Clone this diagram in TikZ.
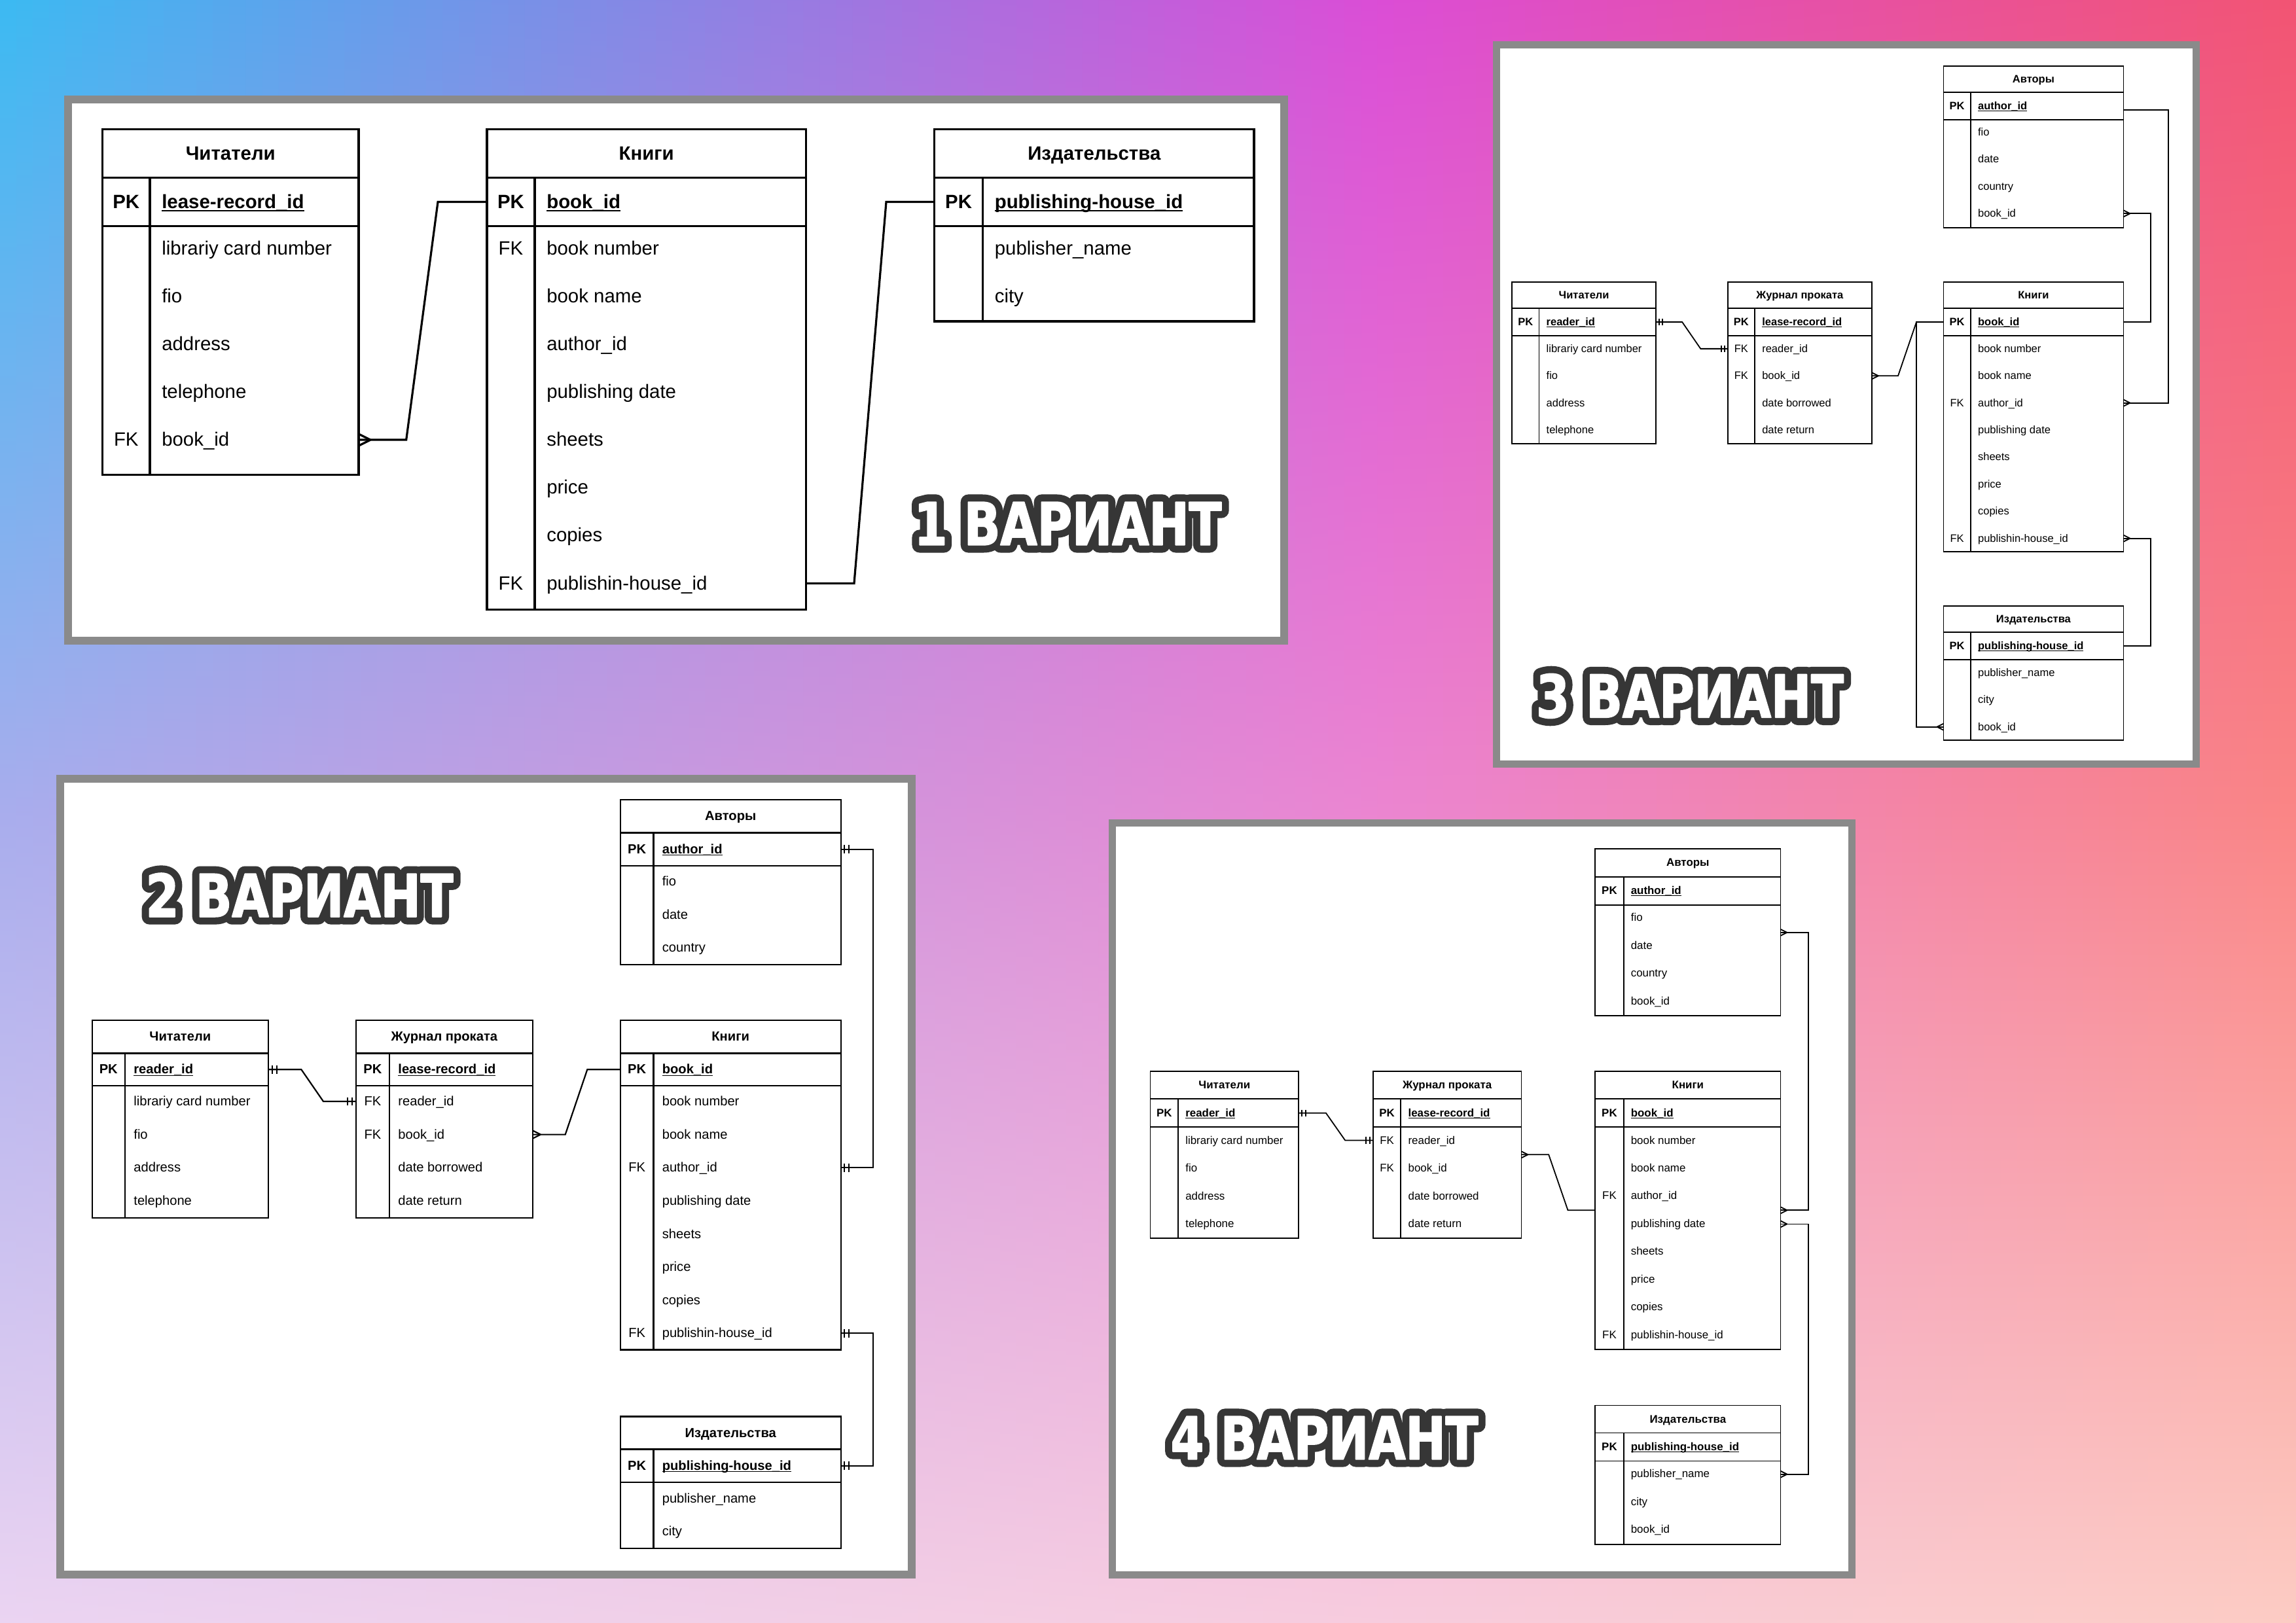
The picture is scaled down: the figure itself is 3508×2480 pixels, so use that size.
\documentclass[tikz,border=0pt]{standalone}
\usepackage{fontspec}
\usepackage{graphicx}
\setmainfont{Liberation Sans}
\newfontfamily\titlefont{DejaVu Sans}[FakeStretch=0.81]
\usetikzlibrary{calc}

\definecolor{t0}{RGB}{59,186,242}
\definecolor{t1}{RGB}{219,77,214}
\definecolor{t2}{RGB}{242,84,115}
\definecolor{m0}{RGB}{168,173,237}
\definecolor{m1}{RGB}{235,133,209}
\definecolor{m2}{RGB}{250,133,133}
\definecolor{b0}{RGB}{235,212,242}
\definecolor{b1}{RGB}{247,204,222}
\definecolor{b2}{RGB}{252,204,196}
\definecolor{framegray}{RGB}{138,138,138}
\definecolor{titledark}{RGB}{54,54,54}

\newcommand\fA{\fontsize{7.35bp}{8.8bp}\selectfont}
\newcommand\fB{\fontsize{5.04bp}{6bp}\selectfont}
\newcommand\fC{\fontsize{4.125bp}{5bp}\selectfont}
\newcommand\fD{\fontsize{4.225bp}{5bp}\selectfont}
\newcommand\keyul[1]{\setbox0=\hbox{#1}\rlap{\rule[-0.15em]{\wd0}{0.07em}}\box0}

\newcommand\ertable[8]{\draw[#1] (#2,#5) rectangle (#3,#8) (#2,#6) -- (#3,#6) (#2,#7) -- (#3,#7) (#4,#6) -- (#4,#8);}
\newcommand\crowfoot[4]{\draw[#4] (#1) ++({(#2)*(#3)},0) -- ++({-(#2)*(#3)},{0.5*(#3)}) (#1) ++({(#2)*(#3)},0) -- ++({-(#2)*(#3)},{-0.5*(#3)});}
\newcommand\mandone[4]{\draw[#4] (#1) ++({0.45*(#2)*(#3)},{0.5*(#3)}) -- ++(0,{-(#3)}) (#1) ++({(#2)*(#3)},{0.5*(#3)}) -- ++(0,{-(#3)});}
\newcommand\vtext[1]{{\titlefont\bfseries\fontsize{22.5bp}{22.5bp}\selectfont
  \rlap{\color{titledark}\addfontfeature{FakeBold=26}#1}\color{white}\addfontfeature{FakeBold=2}#1}}
\newcommand\variant[3]{\node[vt] (#1) at (#2) {\vtext{#3}};}

\begin{document}
\begin{tikzpicture}[x=0.25bp,y=-0.25bp,
  panel/.style={fill=white, draw=framegray, line width=3bp},
  vt/.style={inner sep=0pt, anchor=center, line join=round, line cap=round},
  txt/.style={inner sep=0pt, text depth=0pt, anchor=west, text=black},
  tA/.style={txt, font=\fA, text height=4.85bp},
  tB/.style={txt, font=\fB, text height=3.33bp},
  tC/.style={txt, font=\fC, text height=2.72bp},
  tD/.style={txt, font=\fD, text height=2.79bp},
  pA/.style={tA, font=\fA\bfseries}, pB/.style={tB, font=\fB\bfseries},
  pC/.style={tC, font=\fC\bfseries}, pD/.style={tD, font=\fD\bfseries},
  kA/.style={tA, anchor=center}, kB/.style={tB, anchor=center},
  kC/.style={tC, anchor=center}, kD/.style={tD, anchor=center},
  hA/.style={pA, anchor=center}, hB/.style={pB, anchor=center},
  hC/.style={pC, anchor=center}, hD/.style={pD, anchor=center},
  kbA/.style={hA}, kbB/.style={hB}, kbC/.style={hC}, kbD/.style={hD},
  lnA/.style={draw=black, line width=0.8bp, line join=miter},
  lnB/.style={draw=black, line width=0.55bp},
  lnC/.style={draw=black, line width=0.45bp},
  lnD/.style={draw=black, line width=0.45bp}]
\useasboundingbox (0,0) rectangle (3508,2480);

% ---------- background ----------
\foreach \i in {0,...,139}{
  \pgfmathsetmacro\u{(\i+0.5)/140}
  \pgfmathsetmacro\xa{\i*25.0571}
  \pgfmathsetmacro\xb{(\i+1)*25.0571+2}
  \ifdim\u pt<0.6pt
    \pgfmathsetmacro\p{\u/0.6*100}
    \colorlet{ct}{t1!\p!t0}\colorlet{cm}{m1!\p!m0}\colorlet{cb}{b1!\p!b0}
  \else
    \pgfmathsetmacro\p{(\u-0.6)/0.4*100}
    \colorlet{ct}{t2!\p!t1}\colorlet{cm}{m2!\p!m1}\colorlet{cb}{b2!\p!b1}
  \fi
  \shade[top color=ct, bottom color=cb, middle color=cm] (\xa,-2) rectangle (\xb,2482);
}

% ---------- panels ----------
\draw[panel] (104,152) rectangle (1962,979);
\draw[panel] (92,1190) rectangle (1393,2406);
\draw[panel, line width=2.75bp] (2286,69) rectangle (3355,1168);
\draw[panel, line width=2.75bp] (1699,1257.5) rectangle (2829.5,2406);

% =============== PANEL 1 ===============
\ertable{lnA}{156.6}{548}{229}{197.6}{271.6}{345.7}{725.8}
\ertable{lnA}{744}{1231.5}{817}{197.6}{271.6}{345.7}{931.5}
\ertable{lnA}{1427.7}{1916}{1501.6}{197.6}{271.6}{345.7}{491}

\node[hA] (p1r-h) at (352.3,234.6) {Читатели};
\node[kbA] (p1r-pk) at (192.8,308.6) {PK};
\node[pA] (p1r-id) at (246.5,308.6) {\keyul{lease-record\_id}};
\node[tA] (p1r-1) at (246.5,379.7) {librariy card number};
\node[tA] (p1r-2) at (246.5,452.8) {fio};
\node[tA] (p1r-3) at (246.5,525.9) {address};
\node[tA] (p1r-4) at (246.5,599.0) {telephone};
\node[kA] (p1r-fk) at (192.8,672.1) {FK};
\node[tA] (p1r-5) at (246.5,672.1) {book\_id};

\node[hA] (p1b-h) at (987.75,234.6) {Книги};
\node[kbA] (p1b-pk) at (780.5,308.6) {PK};
\node[pA] (p1b-id) at (834.5,308.6) {\keyul{book\_id}};
\node[kA] (p1b-fk1) at (780.5,379.7) {FK};
\node[tA] (p1b-1) at (834.5,379.7) {book number};
\node[tA] (p1b-2) at (834.5,452.8) {book name};
\node[tA] (p1b-3) at (834.5,525.9) {author\_id};
\node[tA] (p1b-4) at (834.5,599.0) {publishing date};
\node[tA] (p1b-5) at (834.5,672.1) {sheets};
\node[tA] (p1b-6) at (834.5,745.2) {price};
\node[tA] (p1b-7) at (834.5,818.3) {copies};
\node[kA] (p1b-fk2) at (780.5,891.4) {FK};
\node[tA] (p1b-8) at (834.5,891.4) {publishin-house\_id};

\node[hA] (p1p-h) at (1671.85,234.6) {Издательства};
\node[kbA] (p1p-pk) at (1464.65,308.6) {PK};
\node[pA] (p1p-id) at (1519,308.6) {\keyul{publishing-house\_id}};
\node[tA] (p1p-1) at (1519,379.7) {publisher\_name};
\node[tA] (p1p-2) at (1519,452.8) {city};

\coordinate (p1a) at (548,672.1);
\coordinate (p1b) at (744,308.6);
\coordinate (p1c) at (1231.5,891.4);
\coordinate (p1d) at (1427.7,308.6);
\draw[lnA] (p1a) -- ++(72.7,0) -- ($(p1b)+(-75,0)$) -- (p1b);
\draw[lnA] (p1c) -- ++(73.5,0) -- ($(p1d)+(-73.7,0)$) -- (p1d);
\crowfoot{p1a}{1}{18}{lnA}

% =============== PANEL 2 ===============
\ertable{lnB}{947.9}{1284.6}{998.4}{1221.9}{1272.5}{1323.1}{1474.2}
\ertable{lnB}{140.6}{410}{191}{1558.8}{1609.4}{1659.2}{1860.9}
\ertable{lnB}{543.8}{814}{595}{1558.8}{1609.4}{1659.2}{1860.9}
\ertable{lnB}{947.9}{1284.6}{998.4}{1558.8}{1609.4}{1659.2}{2062.5}
\ertable{lnB}{947.9}{1284.6}{998.4}{2164.5}{2214.4}{2265}{2366.2}

\node[hB] (p2a-h) at (1116.25,1247.2) {Авторы};
\node[kbB] (p2a-pk) at (973.15,1297.8) {PK};
\node[pB] (p2a-id) at (1011,1297.8) {\keyul{author\_id}};
\node[tB] (p2a-1) at (1011,1346.9) {fio};
\node[tB] (p2a-2) at (1011,1397.5) {date};
\node[tB] (p2a-3) at (1011,1448.1) {country};

\node[hB] (p2r-h) at (275.3,1584.1) {Читатели};
\node[kbB] (p2r-pk) at (165.8,1634.3) {PK};
\node[pB] (p2r-id) at (203.6,1634.3) {\keyul{reader\_id}};
\node[tB] (p2r-1) at (203.6,1683) {librariy card number};
\node[tB] (p2r-2) at (203.6,1733.6) {fio};
\node[tB] (p2r-3) at (203.6,1784.2) {address};
\node[tB] (p2r-4) at (203.6,1834.8) {telephone};

\node[hB] (p2j-h) at (678.9,1584.1) {Журнал проката};
\node[kbB] (p2j-pk) at (569.4,1634.3) {PK};
\node[pB] (p2j-id) at (607.6,1634.3) {\keyul{lease-record\_id}};
\node[kB] (p2j-fk1) at (569.4,1683) {FK};
\node[tB] (p2j-1) at (607.6,1683) {reader\_id};
\node[kB] (p2j-fk2) at (569.4,1733.6) {FK};
\node[tB] (p2j-2) at (607.6,1733.6) {book\_id};
\node[tB] (p2j-3) at (607.6,1784.2) {date borrowed};
\node[tB] (p2j-4) at (607.6,1834.8) {date return};

\node[hB] (p2b-h) at (1116.25,1584.1) {Книги};
\node[kbB] (p2b-pk) at (973.15,1634.3) {PK};
\node[pB] (p2b-id) at (1011,1634.3) {\keyul{book\_id}};
\node[tB] (p2b-1) at (1011,1683) {book number};
\node[tB] (p2b-2) at (1011,1733.6) {book name};
\node[kB] (p2b-fk1) at (973.15,1784.2) {FK};
\node[tB] (p2b-3) at (1011,1784.2) {author\_id};
\node[tB] (p2b-4) at (1011,1834.8) {publishing date};
\node[tB] (p2b-5) at (1011,1885.4) {sheets};
\node[tB] (p2b-6) at (1011,1936) {price};
\node[tB] (p2b-7) at (1011,1986.6) {copies};
\node[kB] (p2b-fk2) at (973.15,2037.2) {FK};
\node[tB] (p2b-8) at (1011,2037.2) {publishin-house\_id};

\node[hB] (p2p-h) at (1116.25,2189.45) {Издательства};
\node[kbB] (p2p-pk) at (973.15,2239.7) {PK};
\node[pB] (p2p-id) at (1011,2239.7) {\keyul{publishing-house\_id}};
\node[tB] (p2p-1) at (1011,2289.6) {publisher\_name};
\node[tB] (p2p-2) at (1011,2340.2) {city};

\coordinate (p2a) at (410,1634.3);
\coordinate (p2b) at (543.8,1683);
\coordinate (p2c) at (814,1733.6);
\coordinate (p2d) at (947.9,1634.3);
\coordinate (p2e) at (1284.6,1297.8);
\coordinate (p2f) at (1284.6,1784.2);
\coordinate (p2g) at (1284.6,2037.2);
\coordinate (p2h) at (1284.6,2239.7);
\draw[lnB] (p2a) -- ++(50.4,0) -- ($(p2b)+(-49.8,0)$) -- (p2b);
\draw[lnB] (p2c) -- ++(49.7,0) -- ($(p2d)+(-50.6,0)$) -- (p2d);
\draw[lnB] (p2e) -- ++(49.6,0) |- (p2f);
\draw[lnB] (p2g) -- ++(49.6,0) |- (p2h);
\mandone{p2a}{1}{12.6}{lnB}
\mandone{p2b}{-1}{12.6}{lnB}
\crowfoot{p2c}{1}{12}{lnB}
\mandone{p2e}{1}{12.6}{lnB}
\mandone{p2f}{1}{12.6}{lnB}
\mandone{p2g}{1}{12.6}{lnB}
\mandone{p2h}{1}{12.6}{lnB}

% =============== PANEL 3 ===============
\ertable{lnC}{2969.4}{3244.4}{3010.8}{100.7}{141.4}{182.9}{347.9}
\ertable{lnC}{2310}{2530.3}{2351.4}{430.7}{471.4}{512.9}{677.9}
\ertable{lnC}{2639.7}{2860}{2681}{430.7}{471.4}{512.9}{677.9}
\ertable{lnC}{2969.4}{3244.4}{3010.8}{430.7}{471.4}{512.9}{842.9}
\ertable{lnC}{2969.4}{3244.4}{3010.8}{925.7}{966.4}{1007.9}{1131.4}

\node[hC] (p3a-h) at (3106.9,121.05) {Авторы};
\node[kbC] (p3a-pk) at (2990.1,162.15) {PK};
\node[pC] (p3a-id) at (3021.3,162.15) {\keyul{author\_id}};
\node[tC] (p3a-1) at (3021.3,202.1) {fio};
\node[tC] (p3a-2) at (3021.3,243.5) {date};
\node[tC] (p3a-3) at (3021.3,284.9) {country};
\node[tC] (p3a-4) at (3021.3,326.3) {book\_id};

\node[hC] (p3r-h) at (2420.15,451.05) {Читатели};
\node[kbC] (p3r-pk) at (2330.7,492.15) {PK};
\node[pC] (p3r-id) at (2361.9,492.15) {\keyul{reader\_id}};
\node[tC] (p3r-1) at (2361.9,532.9) {librariy card number};
\node[tC] (p3r-2) at (2361.9,574.3) {fio};
\node[tC] (p3r-3) at (2361.9,615.7) {address};
\node[tC] (p3r-4) at (2361.9,657.1) {telephone};

\node[hC] (p3j-h) at (2749.85,451.05) {Журнал проката};
\node[kbC] (p3j-pk) at (2660.35,492.15) {PK};
\node[pC] (p3j-id) at (2691.5,492.15) {\keyul{lease-record\_id}};
\node[kC] (p3j-fk1) at (2660.35,532.9) {FK};
\node[tC] (p3j-1) at (2691.5,532.9) {reader\_id};
\node[kC] (p3j-fk2) at (2660.35,574.3) {FK};
\node[tC] (p3j-2) at (2691.5,574.3) {book\_id};
\node[tC] (p3j-3) at (2691.5,615.7) {date borrowed};
\node[tC] (p3j-4) at (2691.5,657.1) {date return};

\node[hC] (p3b-h) at (3106.9,451.05) {Книги};
\node[kbC] (p3b-pk) at (2990.1,492.15) {PK};
\node[pC] (p3b-id) at (3021.3,492.15) {\keyul{book\_id}};
\node[tC] (p3b-1) at (3021.3,532.9) {book number};
\node[tC] (p3b-2) at (3021.3,574.3) {book name};
\node[kC] (p3b-fk1) at (2990.1,615.7) {FK};
\node[tC] (p3b-3) at (3021.3,615.7) {author\_id};
\node[tC] (p3b-4) at (3021.3,657.1) {publishing date};
\node[tC] (p3b-5) at (3021.3,698.5) {sheets};
\node[tC] (p3b-6) at (3021.3,739.9) {price};
\node[tC] (p3b-7) at (3021.3,781.3) {copies};
\node[kC] (p3b-fk2) at (2990.1,822.7) {FK};
\node[tC] (p3b-8) at (3021.3,822.7) {publishin-house\_id};

\node[hC] (p3p-h) at (3106.9,946.05) {Издательства};
\node[kbC] (p3p-pk) at (2990.1,987.15) {PK};
\node[pC] (p3p-id) at (3021.3,987.15) {\keyul{publishing-house\_id}};
\node[tC] (p3p-1) at (3021.3,1027.9) {publisher\_name};
\node[tC] (p3p-2) at (3021.3,1069.3) {city};
\node[tC] (p3p-3) at (3021.3,1110.7) {book\_id};

\coordinate (p3a) at (2530.3,492.15);
\coordinate (p3b) at (2639.7,532.9);
\coordinate (p3c) at (2860,574.3);
\coordinate (p3d) at (2969.4,492.15);
\coordinate (p3e) at (2969.4,1110.7);
\coordinate (p3f) at (3244.4,168);
\coordinate (p3g) at (3244.4,615.7);
\coordinate (p3h) at (3244.4,492.15);
\coordinate (p3i) at (3244.4,326.3);
\coordinate (p3j) at (3244.4,822.7);
\coordinate (p3k) at (3244.4,987.15);
\draw[lnC] (p3a) -- ++(39.9,0) -- ($(p3b)+(-41.4,0)$) -- (p3b);
\draw[lnC] (p3c) -- ++(40,0) -- ($(p3d)+(-41.4,0)$) -- (p3d);
\draw[lnC] (p3d) -- ++(-41.4,0) |- (p3e);
\draw[lnC] (p3f) -- ++(68.6,0) |- (p3g);
\draw[lnC] (p3h) -- ++(41.4,0) |- (p3i);
\draw[lnC] (p3j) -- ++(41.4,0) |- (p3k);
\mandone{p3a}{1}{10}{lnC}
\mandone{p3b}{-1}{10}{lnC}
\crowfoot{p3c}{1}{10}{lnC}
\crowfoot{p3e}{-1}{10}{lnC}
\crowfoot{p3g}{1}{10}{lnC}
\crowfoot{p3i}{1}{10}{lnC}
\crowfoot{p3j}{1}{10}{lnC}

% =============== PANEL 4 ===============
\ertable{lnD}{2437.3}{2720.4}{2480.6}{1297}{1339.8}{1382.7}{1552}
\ertable{lnD}{1757.5}{1984.1}{1800}{1637.1}{1679.3}{1722.2}{1892.2}
\ertable{lnD}{2097.8}{2324.4}{2140.3}{1637.1}{1679.3}{1722.2}{1892.2}
\ertable{lnD}{2437.3}{2720.4}{2480.6}{1637.1}{1679.3}{1722.2}{2061.6}
\ertable{lnD}{2437.3}{2720.4}{2480.6}{2147.4}{2189.5}{2232.4}{2359.6}

\node[hD] (p4a-h) at (2578.85,1318.4) {Авторы};
\node[kbD] (p4a-pk) at (2458.95,1361.25) {PK};
\node[pD] (p4a-id) at (2491,1361.25) {\keyul{author\_id}};
\node[tD] (p4a-1) at (2491,1402.3) {fio};
\node[tD] (p4a-2) at (2491,1445.2) {date};
\node[tD] (p4a-3) at (2491,1487.3) {country};
\node[tD] (p4a-4) at (2491,1530.2) {book\_id};

\node[hD] (p4r-h) at (1870.8,1658.2) {Читатели};
\node[kbD] (p4r-pk) at (1778.75,1700.75) {PK};
\node[pD] (p4r-id) at (1810.5,1700.75) {\keyul{reader\_id}};
\node[tD] (p4r-1) at (1810.5,1742.5) {librariy card number};
\node[tD] (p4r-2) at (1810.5,1784.6) {fio};
\node[tD] (p4r-3) at (1810.5,1827.5) {address};
\node[tD] (p4r-4) at (1810.5,1869.7) {telephone};

\node[hD] (p4j-h) at (2211.1,1658.2) {Журнал проката};
\node[kbD] (p4j-pk) at (2119.05,1700.75) {PK};
\node[pD] (p4j-id) at (2150.8,1700.75) {\keyul{lease-record\_id}};
\node[kD] (p4j-fk1) at (2119.05,1742.5) {FK};
\node[tD] (p4j-1) at (2150.8,1742.5) {reader\_id};
\node[kD] (p4j-fk2) at (2119.05,1784.6) {FK};
\node[tD] (p4j-2) at (2150.8,1784.6) {book\_id};
\node[tD] (p4j-3) at (2150.8,1827.5) {date borrowed};
\node[tD] (p4j-4) at (2150.8,1869.7) {date return};

\node[hD] (p4b-h) at (2578.85,1658.2) {Книги};
\node[kbD] (p4b-pk) at (2458.95,1700.75) {PK};
\node[pD] (p4b-id) at (2491,1700.75) {\keyul{book\_id}};
\node[tD] (p4b-1) at (2491,1742.5) {book number};
\node[tD] (p4b-2) at (2491,1785) {book name};
\node[kD] (p4b-fk1) at (2458.95,1827.4) {FK};
\node[tD] (p4b-3) at (2491,1827.4) {author\_id};
\node[tD] (p4b-4) at (2491,1869.9) {publishing date};
\node[tD] (p4b-5) at (2491,1912.3) {sheets};
\node[tD] (p4b-6) at (2491,1954.8) {price};
\node[tD] (p4b-7) at (2491,1997.2) {copies};
\node[kD] (p4b-fk2) at (2458.95,2039.7) {FK};
\node[tD] (p4b-8) at (2491,2039.7) {publishin-house\_id};

\node[hD] (p4p-h) at (2578.85,2168.45) {Издательства};
\node[kbD] (p4p-pk) at (2458.95,2210.95) {PK};
\node[pD] (p4p-id) at (2491,2210.95) {\keyul{publishing-house\_id}};
\node[tD] (p4p-1) at (2491,2252) {publisher\_name};
\node[tD] (p4p-2) at (2491,2294.9) {city};
\node[tD] (p4p-3) at (2491,2337) {book\_id};

\coordinate (p4a) at (1984.1,1700.75);
\coordinate (p4b) at (2097.8,1742.5);
\coordinate (p4c) at (2324.4,1764.3);
\coordinate (p4d) at (2437.3,1849.3);
\coordinate (p4e) at (2720.4,1424.9);
\coordinate (p4f) at (2720.4,1849.3);
\coordinate (p4g) at (2720.4,1870.4);
\coordinate (p4h) at (2720.4,2252.7);
\draw[lnD] (p4a) -- ++(41.8,0) -- ($(p4b)+(-42.6,0)$) -- (p4b);
\draw[lnD] (p4c) -- ++(41.8,0) -- ($(p4d)+(-41.8,0)$) -- (p4d);
\draw[lnD] (p4e) -- ++(42.6,0) |- (p4f);
\draw[lnD] (p4g) -- ++(42.6,0) |- (p4h);
\mandone{p4a}{1}{10.5}{lnD}
\mandone{p4b}{-1}{10.5}{lnD}
\crowfoot{p4c}{1}{10}{lnD}
\crowfoot{p4e}{1}{10}{lnD}
\crowfoot{p4f}{1}{10}{lnD}
\crowfoot{p4g}{1}{10}{lnD}
\crowfoot{p4h}{1}{10}{lnD}

% =============== TITLES ===============
\coordinate (v1c) at (1631.5,800);
\coordinate (v2c) at (457.5,1367.5);
\coordinate (v3c) at (2582,1063.5);
\coordinate (v4c) at (2023.5,2197);
\variant{v1}{v1c}{1 ВАРИАНТ}
\variant{v2}{v2c}{2 ВАРИАНТ}
\variant{v3}{v3c}{3 ВАРИАНТ}
\variant{v4}{v4c}{4 ВАРИАНТ}
\end{tikzpicture}
\end{document}
